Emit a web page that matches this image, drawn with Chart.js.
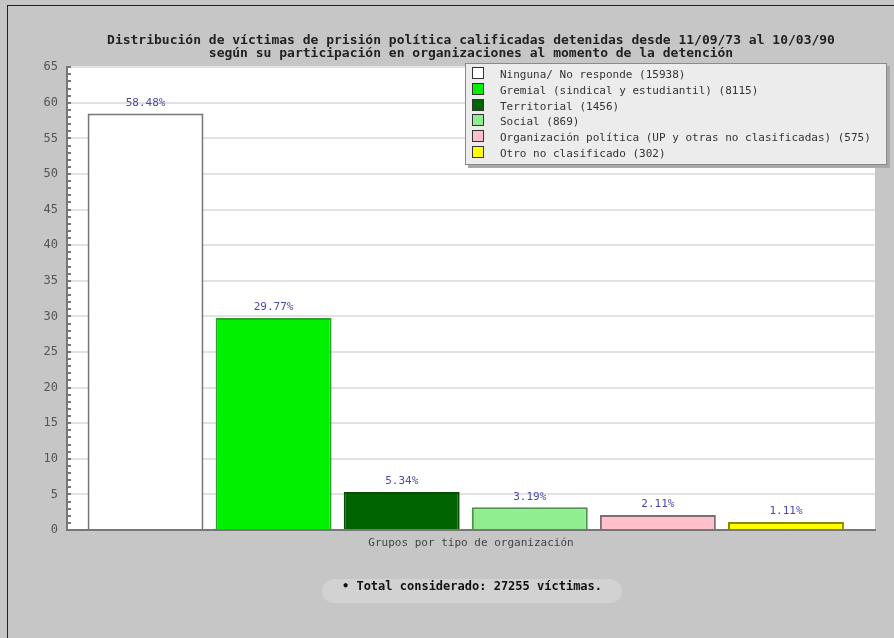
<!DOCTYPE html>
<html>
<head>
<meta charset="utf-8">
<script src="https://cdn.jsdelivr.net/npm/chart.js@4/dist/chart.umd.min.js"></script>
<style>
  html, body { margin:0; padding:0; background:#c6c6c6; width:894px; height:638px; overflow:hidden; }
  #frame { position:absolute; left:7px; top:5px; width:900px; height:650px; border-top:1px solid #222; border-left:1px solid #222; }
  #wrap { position:absolute; left:0; top:0; width:894px; height:638px; }
  #legend { position:absolute; left:465px; top:63px; width:420px; height:100px; background:#ececec; border:1px solid #8a8a8a; box-shadow:3px 3px 0 #a8a8a8; font:11px "DejaVu Sans Mono", monospace; color:#333; }
  #legend .it { position:absolute; left:6px; height:14px; line-height:14px; white-space:nowrap; }
  #legend .sw { display:inline-block; width:10px; height:10px; border:1px solid #333; vertical-align:-1px; margin-right:16px; }
  #total { position:absolute; left:322px; top:579px; width:300px; height:24px; line-height:24px; text-align:center; background:#d2d2d2; border-radius:12px; font:bold 12px "DejaVu Sans Mono", monospace; color:#111; }
</style>
</head>
<body>
<div id="frame"></div>
<div id="wrap"><canvas id="c" width="894" height="638"></canvas></div>
<div id="legend"></div>
<div id="total"></div>
<script>
const categories = [
  "Ninguna/ No responde",
  "Gremial (sindical y estudiantil)",
  "Territorial",
  "Social",
  "Organización política (UP y otras no clasificadas)",
  "Otro no clasificado"
];
const counts = [15938, 8115, 1456, 869, 575, 302];
const percentages = [58.48, 29.77, 5.34, 3.19, 2.11, 1.11];
const totalVictims = 27255;
const fillColors = ["#ffffff", "#00f000", "#006400", "#90ee90", "#ffc0cb", "#ffff00"];
const borderColors = ["#777777", "#2e9e2e", "#0a4a0a", "#4f8f4f", "#7d6f70", "#8a8a00"];
const titleLines = [
  "Distribución de víctimas de prisión política calificadas detenidas desde 11/09/73 al 10/03/90",
  "según su participación en organizaciones al momento de la detención"
];
const xAxisTitle = "Grupos por tipo de organización";

// HTML legend
const leg = document.getElementById('legend');
categories.forEach((c, i) => {
  const d = document.createElement('div');
  d.className = 'it';
  d.style.top = (3 + i * 15.8) + 'px';
  d.innerHTML = '<span class="sw" style="background:' + fillColors[i] + '"></span>' + c + ' (' + counts[i] + ')';
  leg.appendChild(d);
});
document.getElementById('total').textContent = '\u2022 Total considerado: ' + totalVictims + ' víctimas.';

const valueLabels = {
  id: 'valueLabels',
  afterDatasetsDraw(chart) {
    const ctx = chart.ctx;
    const meta = chart.getDatasetMeta(0);
    ctx.save();
    ctx.font = '11px "DejaVu Sans Mono", monospace';
    ctx.fillStyle = '#4a4aa8';
    ctx.textAlign = 'center';
    ctx.textBaseline = 'bottom';
    meta.data.forEach((bar, i) => {
      ctx.fillText(percentages[i].toFixed(2) + '%', bar.x, bar.y - 5);
    });
    ctx.restore();
  }
};
const plotBg = {
  id: 'plotBg',
  beforeDraw(chart) {
    const a = chart.chartArea, ctx = chart.ctx;
    ctx.save();
    ctx.fillStyle = '#ffffff';
    ctx.fillRect(a.left, a.top, a.right - a.left, a.bottom - a.top);
    ctx.restore();
  }
};

new Chart(document.getElementById('c'), {
  type: 'bar',
  data: {
    datasets: [{
      data: percentages.map((v, i) => ({ x: i, y: v })),
      backgroundColor: fillColors,
      borderColor: borderColors,
      borderWidth: 2,
      barPercentage: 0.905,
      categoryPercentage: 1
    }]
  },
  options: {
    responsive: false,
    animation: false,
    devicePixelRatio: 1,
    layout: { padding: { left: 30, top: 35, right: 19, bottom: 88 } },
    plugins: {
      legend: { display: false },
      tooltip: { enabled: false },
      title: {
        display: true,
        fullSize: false,
        text: titleLines,
        color: '#222',
        font: { family: '"DejaVu Sans Mono", monospace', size: 13, weight: 'bold', lineHeight: 0.93 },
        padding: { top: 0, bottom: 8 }
      }
    },
    scales: {
      x: {
        type: 'linear',
        offset: false,
        min: -0.613,
        max: 5.695,
        afterFit: s => { s.height = 20; },
        ticks: { display: false, stepSize: 1, includeBounds: false },
        grid: { display: false },
        border: { display: true, color: '#777', width: 2 },
        title: { display: true, text: xAxisTitle, color: '#444', padding: { top: 2, bottom: 0 },
                 font: { family: '"DejaVu Sans Mono", monospace', size: 11 } }
      },
      y: {
        min: 0,
        max: 65,
        afterFit: s => { s.width = 37; },
        ticks: {
          stepSize: 1,
          autoSkip: false,
          padding: 13,
          color: '#555',
          font: { family: '"DejaVu Sans Mono", monospace', size: 12 },
          callback: v => (v % 5 === 0 ? String(v) : '')
        },
        grid: {
          tickLength: -4,
          tickColor: '#777',
          color: c => (c.tick && c.tick.value % 5 === 0 && c.tick.value > 0 ? '#e2e2e2' : 'rgba(0,0,0,0)'),
          lineWidth: 2
        },
        border: { display: true, color: '#777', width: 2 }
      }
    }
  },
  plugins: [plotBg, valueLabels]
});
</script>
</body>
</html>
